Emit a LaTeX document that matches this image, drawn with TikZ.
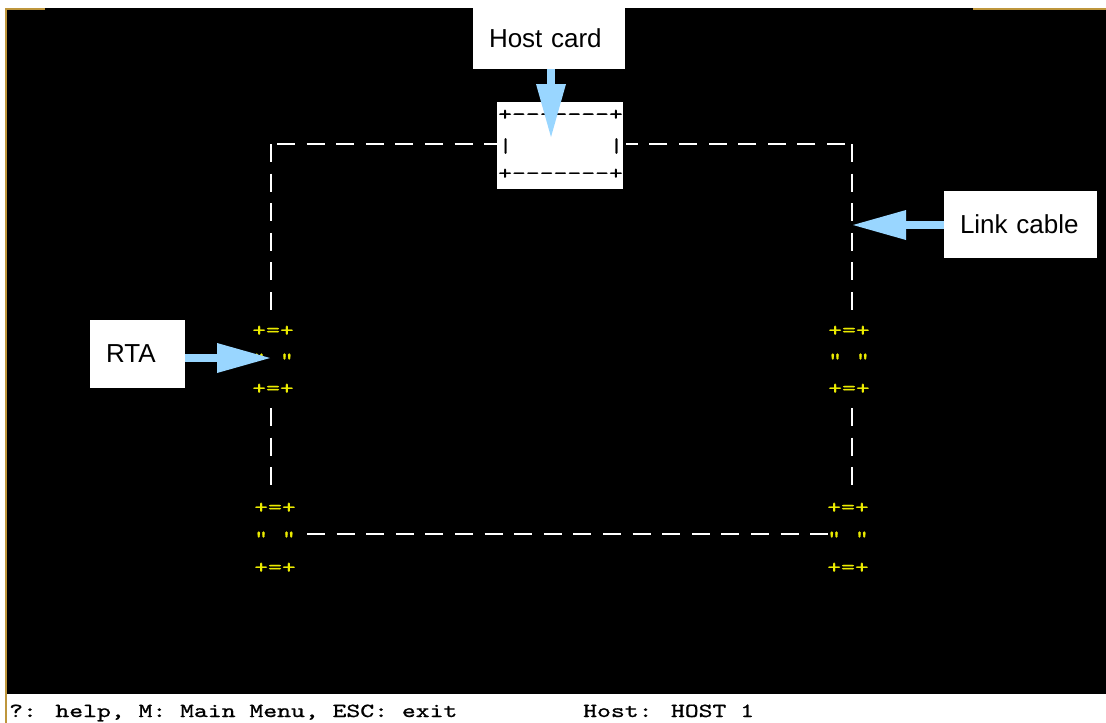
\documentclass[tikz,border=0pt]{standalone}
\usepackage{fontspec}
\usepackage{graphicx}
\setmainfont{Liberation Sans}
\newfontfamily\termfont{lmmono10-regular.otf}[FakeBold=0.8]
\usetikzlibrary{arrows.meta}
\definecolor{arrowblue}{RGB}{153,214,255}
\definecolor{termyellow}{RGB}{235,235,0}
\definecolor{framegold}{RGB}{190,150,60}
\newcommand\termtxt[1]{\scalebox{1.32}[1]{\termfont\fontsize{20}{24}\selectfont #1}}
\newcommand\hy{\mbox{-}}
\begin{document}
\begin{tikzpicture}[x=1pt,y=-1pt,
  cable/.style={draw=white,line width=2.7pt,dash pattern=on 18pt off 11.6pt},
  lbl/.style={fill=white,inner xsep=16pt,inner ysep=0pt,align=left,font=\fontsize{26}{30}\selectfont},
  pointer/.style={draw=arrowblue,line width=8pt,-{Triangle[length=53pt,width=30pt,line width=0pt]}},
  yel/.style={text=termyellow,inner sep=0pt},
  blk/.style={text=black,inner sep=0pt}]
\useasboundingbox (0,0) rectangle (1106,723);
\fill[white] (0,0) rectangle (1106,723);
\fill[black] (7,8) rectangle (1106,694);
\draw[framegold,line width=2pt] (6,723) -- (6,9) -- (45,9);
\draw[framegold,line width=2pt] (973,9) -- (1106,9);

% host card box
\node[fill=white,minimum width=126pt,minimum height=87pt,inner sep=0pt] (hostbox) at (560,145.5) {};
\node[blk] (hb1) at (560.5,115) {\termtxt{+\hy\hy\hy\hy\hy\hy\hy+}};
\node[blk] (hb2) at (561,146) {\termtxt{|~~~~~~~|}};
\node[blk] (hb3) at (560.5,174) {\termtxt{+\hy\hy\hy\hy\hy\hy\hy+}};

% RTA glyph groups
\node[yel] (lm1) at (273,331) {\termtxt{+=+}};
\node[yel,anchor=base] (lm2) at (273,366) {\termtxt{”~”}};
\node[yel] (lm3) at (273,389) {\termtxt{+=+}};
\node[yel] (rm1) at (849,331) {\termtxt{+=+}};
\node[yel,anchor=base] (rm2) at (849,366) {\termtxt{”~”}};
\node[yel] (rm3) at (849,389) {\termtxt{+=+}};
\node[yel] (lb1) at (275,508) {\termtxt{+=+}};
\node[yel,anchor=base] (lb2) at (275,544) {\termtxt{”~”}};
\node[yel] (lb3) at (275,568) {\termtxt{+=+}};
\node[yel] (rb1) at (848,508) {\termtxt{+=+}};
\node[yel,anchor=base] (rb2) at (848,544) {\termtxt{”~”}};
\node[yel] (rb3) at (848,568) {\termtxt{+=+}};

% cable coordinates
\coordinate (tlh) at (277,144);
\coordinate (trh) at (845,144);
\coordinate (tlv) at (271,144);
\coordinate (tlve) at (271,310);
\coordinate (trv) at (852,144);
\coordinate (trve) at (852,310);
\coordinate (lmv) at (271,408);
\coordinate (lmve) at (271,485);
\coordinate (rmv) at (852,408);
\coordinate (rmve) at (852,485);
\coordinate (bhs) at (307,534);
\coordinate (bhe) at (828,534);

\draw[cable] (tlh) -- (hostbox.west |- tlh);
\draw[cable,shorten >=3pt] (trh) -- (hostbox.east |- trh);
\draw[cable] (tlv) -- (tlve);
\draw[cable] (trv) -- (trve);
\draw[cable] (lmv) -- (lmve);
\draw[cable] (rmv) -- (rmve);
\draw[cable] (bhs) -- (bhe);

% labels
\node[lbl,text width=120pt,minimum height=62pt] (hostlbl) at (549,38) {Host card};
\node[lbl,text width=121pt,minimum height=67pt] (linklbl) at (1020.5,224.5) {Link cable};
\node[lbl,text width=63pt,minimum height=68pt] (rtalbl) at (137.5,354) {RTA};

\coordinate (hosttip) at (551,137);
\coordinate (linktip) at (853,225);
\coordinate (rtatip) at (270,358);
\draw[pointer] (hostlbl.south -| hosttip) -- (hosttip);
\draw[pointer] (linklbl.west |- linktip) -- (linktip);
\draw[pointer] (rtalbl.east |- rtatip) -- (rtatip);

% status line
\node[blk,anchor=base west] (helpline) at (9,717) {\termtxt{?: help, M: Main Menu, ESC: exit}};
\node[blk,anchor=base west] (hostline) at (583,717) {\termtxt{Host: HOST 1}};
\end{tikzpicture}
\end{document}
